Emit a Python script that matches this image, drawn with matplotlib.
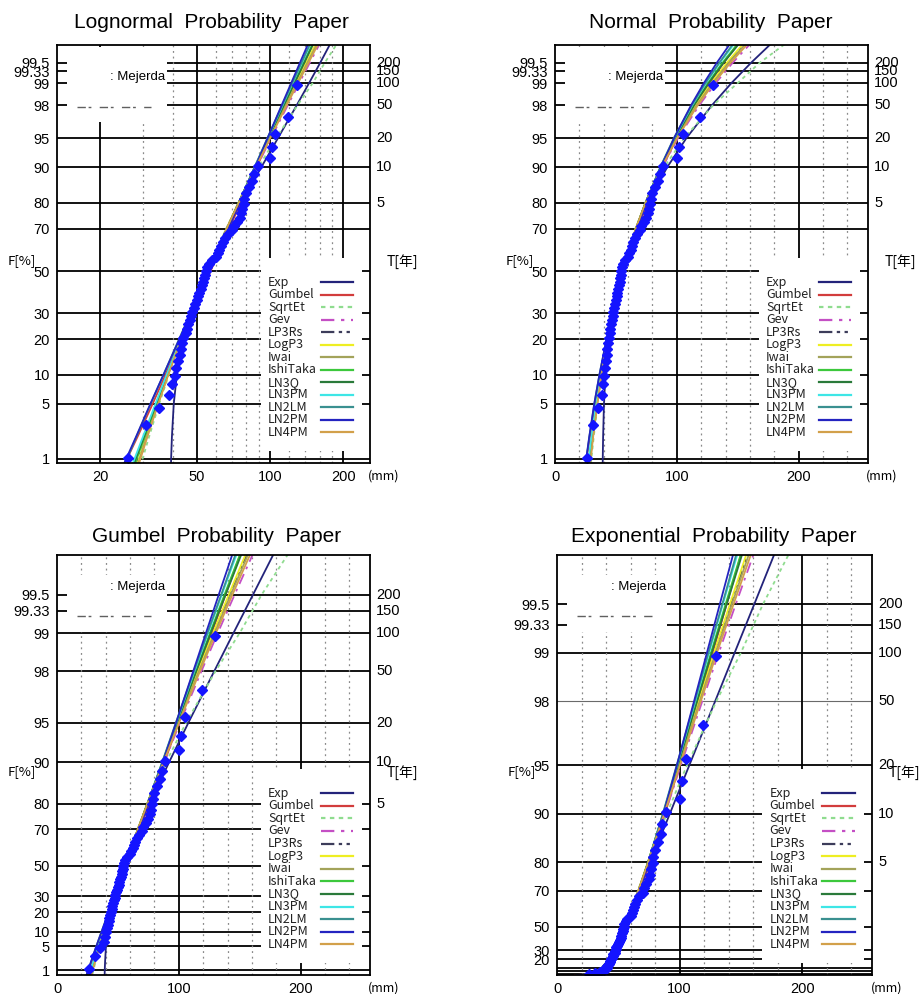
import numpy as np
import matplotlib
matplotlib.use("Agg")
import matplotlib.pyplot as plt
from matplotlib.patches import Rectangle
from matplotlib.lines import Line2D
from matplotlib.ticker import NullLocator, NullFormatter
from matplotlib.transforms import blended_transform_factory
from statistics import NormalDist

plt.rcParams['font.family'] = ['Liberation Sans', 'Noto Sans CJK JP']
CJK = ['Noto Sans CJK JP', 'DejaVu Sans']

# non-exceedance probabilities (%) at which the fitted curves are read
F_LEVELS = [0.01, 0.5, 1, 2, 5, 10, 20, 30, 50, 70, 80, 90, 95, 98, 99, 99.5, 99.8, 99.9]

# fitted quantiles (mm) for each model
Q_EXP      = [39.0, 39.1, 39.2, 39.5, 40.2, 41.4, 44.1, 47.2, 54.9, 66.7, 76.0, 92.0, 107.9, 129.0, 144.9, 160.9, 181.9, 197.9]
Q_GUMBEL   = [14.4, 23.5, 25.8, 28.5, 32.9, 37.2, 43.1, 47.9, 57.0, 68.0, 75.7, 88.1, 100.0, 115.4, 126.9, 138.4, 153.5, 165.0]
Q_SQRTET   = [23.0, 28.5, 29.9, 31.8, 35.0, 38.4, 43.4, 47.6, 55.6, 66.0, 74.5, 89.5, 106.0, 130.0, 150.0, 168.0, 195.0, 215.0]
Q_GEV      = [25.0, 27.8, 29.0, 30.9, 34.3, 37.8, 43.0, 47.4, 55.8, 66.6, 74.7, 88.0, 101.0, 118.5, 132.0, 145.8, 164.5, 179.0]
Q_LP3RS    = [20.5, 27.0, 28.7, 30.9, 34.4, 38.0, 43.1, 47.5, 55.9, 66.5, 74.3, 87.0, 99.5, 116.0, 128.8, 141.8, 159.3, 172.8]
Q_LOGP3    = [21.0, 27.2, 28.9, 31.0, 34.5, 38.1, 43.1, 47.5, 55.9, 66.4, 74.2, 86.9, 99.2, 115.6, 128.2, 141.0, 158.3, 171.5]
Q_IWAI     = [21.5, 27.5, 29.1, 31.1, 34.6, 38.1, 43.1, 47.4, 55.8, 66.3, 74.2, 87.1, 99.7, 116.5, 129.5, 142.6, 160.5, 174.0]
Q_ISHITAKA = [19.5, 26.5, 28.3, 30.5, 34.2, 37.9, 43.1, 47.6, 56.1, 66.6, 74.2, 86.5, 98.3, 113.8, 125.6, 137.5, 153.5, 165.5]
Q_LN3Q     = [19.0, 26.2, 28.0, 30.3, 34.0, 37.8, 43.0, 47.5, 56.0, 66.6, 74.3, 86.7, 98.6, 114.3, 126.3, 138.4, 154.6, 166.8]
Q_LN3PM    = [18.5, 25.8, 27.7, 30.0, 33.8, 37.6, 43.0, 47.6, 56.3, 67.0, 74.6, 86.6, 98.0, 112.8, 124.0, 135.3, 150.5, 161.8]
Q_LN2LM    = [16.2, 23.7, 25.8, 28.2, 32.3, 36.5, 42.3, 47.0, 56.0, 66.8, 74.4, 86.3, 97.6, 112.4, 123.5, 134.8, 149.5, 160.8]
Q_LN2PM    = [15.9, 23.5, 25.6, 28.1, 32.2, 36.5, 42.4, 47.3, 56.5, 67.4, 75.0, 86.9, 97.8, 111.8, 122.3, 132.8, 146.8, 157.6]
Q_LN4PM    = [22.0, 27.8, 29.3, 31.3, 34.7, 38.2, 43.1, 47.4, 55.7, 66.3, 74.3, 87.4, 100.2, 117.3, 130.5, 144.0, 162.3, 176.0]

MODEL_NAMES = ['Exp', 'Gumbel', 'SqrtEt', 'Gev', 'LP3Rs', 'LogP3', 'Iwai', 'IshiTaka',
               'LN3Q', 'LN3PM', 'LN2LM', 'LN2PM', 'LN4PM']
MODEL_Q = [Q_EXP, Q_GUMBEL, Q_SQRTET, Q_GEV, Q_LP3RS, Q_LOGP3, Q_IWAI, Q_ISHITAKA,
           Q_LN3Q, Q_LN3PM, Q_LN2LM, Q_LN2PM, Q_LN4PM]
MODEL_COLORS = ['#23237a', '#d23c3c', '#8fdc8f', '#c44fc4', '#3c3c5a', '#eeee22', '#a3a35a',
                '#3cc83c', '#2a7a3a', '#3ee6e6', '#3a9090', '#2424c0', '#d2a04a']
MODEL_STYLES = ['-', '-', (0, (2, 2)), (0, (6, 3, 1.5, 3)), (0, (6, 2, 1.5, 2, 1.5, 2)),
                '-', '-', '-', '-', '-', '-', '-', '-']

# observed annual maxima (mm), sorted, with plotting positions (%)
DATA_MM = [26.0, 31.0, 35.0, 38.5, 39.5, 40.5, 41.0, 42.0, 42.5, 43.0,
           43.5, 44.0, 45.0, 45.5, 46.0, 47.0, 47.5, 48.0, 48.5, 49.0,
           50.0, 50.5, 51.0, 52.0, 52.5, 53.0, 53.5, 54.0, 54.5, 55.0,
           56.0, 57.5, 60.0, 61.0, 62.0, 63.0, 64.0, 65.5, 67.0, 70.0,
           71.0, 73.0, 75.0, 76.0, 77.0, 78.0, 78.5, 80.0, 82.0, 84.5,
           86.0, 89.0, 100.0, 102.0, 105.0, 119.0, 129.5]
DATA_F = [1.05, 2.80, 4.55, 6.29, 8.04, 9.79, 11.54, 13.29, 15.03, 16.78,
          18.53, 20.28, 22.03, 23.78, 25.52, 27.27, 29.02, 30.77, 32.52, 34.27,
          36.01, 37.76, 39.51, 41.26, 43.01, 44.76, 46.50, 48.25, 50.00, 51.75,
          53.50, 55.24, 56.99, 58.74, 60.49, 62.24, 63.99, 65.73, 67.48, 69.23,
          70.98, 72.73, 74.48, 76.22, 77.97, 79.72, 81.47, 83.22, 84.97, 86.71,
          88.46, 90.21, 91.96, 93.71, 95.45, 97.20, 98.95]

F_TICKS = [1, 5, 10, 20, 30, 50, 70, 80, 90, 95, 98, 99, 99.33, 99.5]
F_LABELS = ['1', '5', '10', '20', '30', '50', '70', '80', '90', '95', '98', '99', '99.33', '99.5']
T_TICKS = [80, 90, 95, 98, 99, 99.33, 99.5]
T_LABELS = ['5', '10', '20', '50', '100', '150', '200']

# probability paper scales
_nd = NormalDist()
_ppf = np.vectorize(_nd.inv_cdf, otypes=[float])
_cdf = np.vectorize(_nd.cdf, otypes=[float])


def norm_fwd(F):
    p = np.clip(np.asarray(F, dtype=float) / 100.0, 1e-12, 1 - 1e-12)
    return _ppf(p)


def norm_inv(z):
    return _cdf(np.asarray(z, dtype=float)) * 100.0


def gum_fwd(F):
    p = np.clip(np.asarray(F, dtype=float) / 100.0, 1e-12, 1 - 1e-12)
    return -np.log(-np.log(p))


def gum_inv(u):
    with np.errstate(all='ignore'):
        return np.exp(-np.exp(-np.asarray(u, dtype=float))) * 100.0


def exp_fwd(F):
    p = np.clip(np.asarray(F, dtype=float) / 100.0, -10, 1 - 1e-12)
    return -np.log(1 - p)


def exp_inv(y):
    with np.errstate(all='ignore'):
        return (1 - np.exp(-np.asarray(y, dtype=float))) * 100.0


LIN_SOLID = [100, 200]
LIN_DOT = [20, 40, 60, 80, 120, 140, 160, 180, 220, 240]

PANELS = [
    dict(title='Lognormal  Probability  Paper', rect=(57, 45, 370, 463), xlog=True,
         xlim=(13.3, 258), xticks=[20, 50, 100, 200], solid=[20, 50, 100, 200],
         dots=[30, 40, 60, 70, 80, 90, 120, 140, 160, 180], fun=(norm_fwd, norm_inv),
         ylim=(0.875, 99.742), tx=0.492, ty=1.041, box=(0.816, 0.995), lab_y=0.923,
         dash_y=0.852, hide=[], thin=[]),
    dict(title='Normal  Probability  Paper', rect=(555, 45, 868, 463), xlog=False,
         xlim=(0, 257), xticks=[0, 100, 200], solid=LIN_SOLID, dots=LIN_DOT,
         fun=(norm_fwd, norm_inv), ylim=(0.875, 99.742), tx=0.498, ty=1.041,
         box=(0.816, 0.995), lab_y=0.923, dash_y=0.852, hide=[], thin=[]),
    dict(title='Gumbel  Probability  Paper', rect=(57, 555, 370, 975), xlog=False,
         xlim=(0, 257), xticks=[0, 100, 200], solid=LIN_SOLID, dots=LIN_DOT,
         fun=(gum_fwd, gum_inv), ylim=(0.65, 99.757), tx=0.51, ty=1.031,
         box=(0.817, 0.952), lab_y=0.924, dash_y=0.855, hide=[], thin=[]),
    dict(title='Exponential  Probability  Paper', rect=(557, 555, 872, 975), xlog=False,
         xlim=(0, 257), xticks=[0, 100, 200], solid=LIN_SOLID, dots=LIN_DOT,
         fun=(exp_fwd, exp_inv), ylim=(0.0, 99.753), tx=0.498, ty=1.031,
         box=(0.817, 0.952), lab_y=0.924, dash_y=0.855, hide=['1', '5', '10'], thin=[98]),
]

W, H = 921, 994
fig = plt.figure(figsize=(W / 100, H / 100), dpi=100)

for p in PANELS:
    x0, y0, x1, y1 = p['rect']
    ax = fig.add_axes([x0 / W, 1 - y1 / H, (x1 - x0) / W, (y1 - y0) / H])
    if p['xlog']:
        ax.set_xscale('log')
    ax.set_yscale('function', functions=p['fun'])

    # grid
    for f in F_TICKS:
        if f in p['thin']:
            ax.axhline(f, color='#6a6a6a', lw=0.8, zorder=1)
        else:
            ax.axhline(f, color='black', lw=1.3, zorder=1)
    for x in p['solid']:
        ax.axvline(x, color='black', lw=1.3, zorder=1)
    for x in p['dots']:
        ax.axvline(x, color='#8a8a8a', lw=0.9, ls=(0, (1.5, 3)), zorder=1)

    # white boxes (station label and legend)
    ax.add_patch(Rectangle((0.032, p['box'][0]), 0.318, p['box'][1] - p['box'][0],
                           transform=ax.transAxes, facecolor='white', edgecolor='none', zorder=2))
    ax.add_patch(Rectangle((0.652, 0.028), 0.322, 0.462, transform=ax.transAxes,
                           facecolor='white', edgecolor='none', zorder=2))
    ax.text(0.17, p['lab_y'], ': Mejerda', transform=ax.transAxes, fontsize=9.5,
            va='center', ha='left', zorder=3)
    ax.add_line(Line2D([0.065, 0.30], [p['dash_y'], p['dash_y']], transform=ax.transAxes,
                       color='#606060', lw=1.0, ls=(0, (6, 2, 2, 6)), zorder=3))

    # fitted curves
    for q, c, s in zip(MODEL_Q, MODEL_COLORS, MODEL_STYLES):
        ax.plot(q, F_LEVELS, color=c, ls=s, lw=1.3, zorder=3)

    # observations
    ax.plot(DATA_MM, DATA_F, ls='none', color='#1414ff', marker='D', ms=5, zorder=4)

    # legend drawn in the white box
    for i, (name, c, s) in enumerate(zip(MODEL_NAMES, MODEL_COLORS, MODEL_STYLES)):
        yy = 0.433 - i * 0.0300
        ax.text(0.674, yy, name, transform=ax.transAxes, fontsize=9, va='center',
                ha='left', family=CJK, color='#222222', zorder=5)
        ax.add_line(Line2D([0.842, 0.946], [yy, yy], transform=ax.transAxes, color=c,
                           ls=s, lw=1.6, zorder=5))

    # axes, ticks and labels
    ax.set_xlim(*p['xlim'])
    ax.set_ylim(*p['ylim'])
    ax.set_xticks(p['xticks'])
    ax.set_xticklabels([str(t) for t in p['xticks']])
    ax.xaxis.set_minor_locator(NullLocator())
    ax.xaxis.set_minor_formatter(NullFormatter())
    ax.set_yticks(F_TICKS)
    ax.set_yticklabels(['' if l in p['hide'] else l for l in F_LABELS])
    ax.yaxis.set_minor_locator(NullLocator())
    ax.tick_params(axis='both', length=0, labelsize=10.5)
    ax.tick_params(axis='y', pad=5)
    ax.tick_params(axis='x', pad=5)
    for sp in ax.spines.values():
        sp.set_linewidth(1.3)
        sp.set_zorder(6)

    tr = blended_transform_factory(ax.transAxes, ax.transData)
    for f, lab in zip(T_TICKS, T_LABELS):
        ax.text(1.02, f, lab, transform=tr, fontsize=10.5, va='center', ha='left')

    ax.text(p['tx'], p['ty'], p['title'], transform=ax.transAxes, fontsize=15,
            ha='center', va='baseline')
    ax.text(-0.112, 0.485, 'F[%]', transform=ax.transAxes, fontsize=9.5, ha='center',
            va='center', family=CJK)
    ax.text(1.104, 0.483, 'T[年]', transform=ax.transAxes, fontsize=10, ha='center',
            va='center', family=CJK)
    ax.text(1.045, -0.032, '(mm)', transform=ax.transAxes, fontsize=9, ha='center',
            va='center', family=CJK)

fig.savefig('out.png', dpi=100)
